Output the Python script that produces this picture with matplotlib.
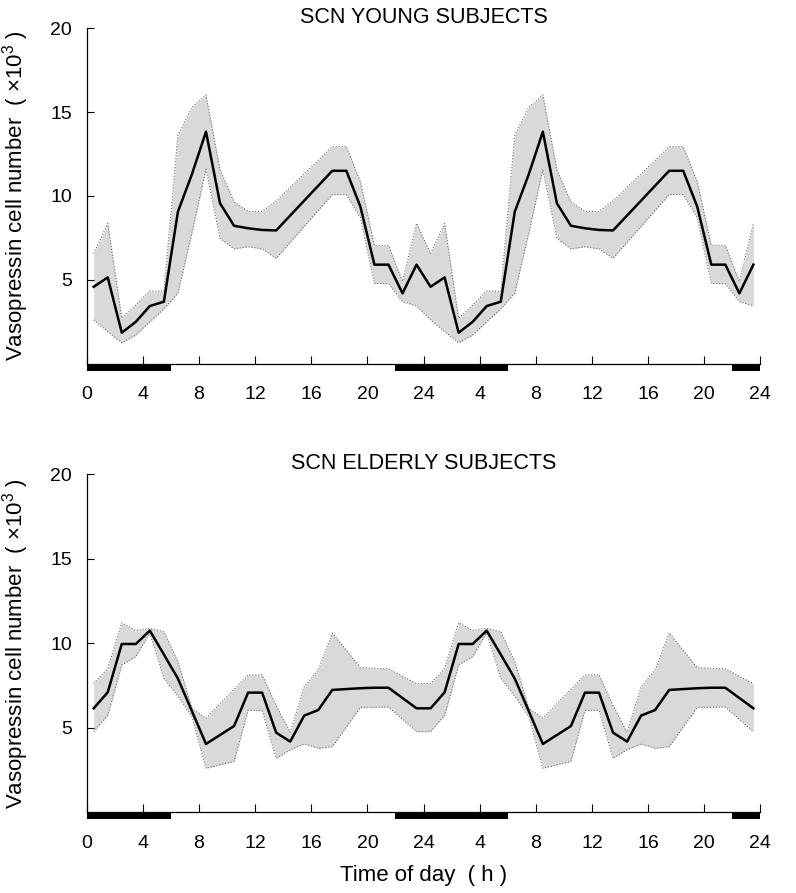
import matplotlib
matplotlib.use("Agg")
import matplotlib.pyplot as plt
import numpy as np

plt.rcParams['font.family'] = ['Liberation Sans', 'DejaVu Sans']
plt.rcParams['mathtext.fontset'] = 'custom'
plt.rcParams['mathtext.rm'] = 'Liberation Sans'
plt.rcParams['mathtext.it'] = 'Liberation Sans:italic'

# clock time of each sample (h); gaps are hours without data
young_hours = [0.5, 1.5, 2.5, 3.5, 4.5, 5.5, 6.5, 7.5, 8.5, 9.5, 10.5, 11.5, 12.5, 13.5,
               17.5, 18.5, 19.5, 20.5, 21.5, 22.5, 23.5]
young_mean = [4.58, 5.14, 1.84, 2.49, 3.43, 3.69, 9.06, 11.3, 13.83, 9.56, 8.22, 8.07, 7.97, 7.94,
              11.5, 11.5, 9.36, 5.9, 5.9, 4.19, 5.9]
young_upper = [6.57, 8.36, 2.7, 3.49, 4.34, 4.3, 13.63, 15.28, 16.02, 11.55, 9.65, 9.08, 9.08, 9.7,
               12.94, 12.94, 10.85, 7.05, 7.05, 4.9, 8.36]
young_lower = [2.6, 1.9, 1.24, 1.7, 2.49, 3.25, 4.2, 7.8, 11.6, 7.47, 6.84, 6.97, 6.84, 6.28,
               10.08, 10.08, 8.7, 4.78, 4.77, 3.69, 3.44]

elderly_hours = [0.5, 1.5, 2.5, 3.5, 4.5, 5.5, 6.5, 7.5, 8.5, 10.5, 11.5, 12.5, 13.5, 14.5,
                 15.5, 16.5, 17.5, 19.5, 20.5, 21.5, 23.5]
elderly_mean = [6.14, 7.09, 9.95, 9.95, 10.74, 9.33, 7.9, 5.97, 4.03, 5.09, 7.07, 7.07, 4.70, 4.17,
                5.71, 6.04, 7.23, 7.33, 7.36, 7.36, 6.14]
elderly_upper = [7.62, 8.5, 11.21, 10.74, 10.88, 10.68, 8.9, 6.14, 5.55, 7.27, 8.12, 8.12, 6.3, 4.72,
                 7.42, 8.41, 10.6, 8.55, 8.51, 8.48, 7.6]
elderly_lower = [4.76, 5.72, 8.71, 9.2, 10.6, 7.92, 6.85, 5.65, 2.59, 3.0, 6.02, 6.02, 3.18, 3.69,
                 4.03, 3.77, 3.87, 6.2, 6.2, 6.22, 4.76]

# dark period of the day (h)
night = [(0, 6), (22, 24)]

tick_pos = list(range(0, 49, 4))
tick_labels = ["0", "4", "8", "12", "16", "20", "24", "4", "8", "12", "16", "20", "24"]


def double_plot(ax, hours, mean, upper, lower, title):
    h = np.array(hours)
    x = np.concatenate([h, h + 24])
    m = np.tile(mean, 2)
    up = np.tile(upper, 2)
    lo = np.tile(lower, 2)
    ax.fill_between(x, lo, up, color="#d9d9d9", lw=0)
    ax.plot(x, up, ls=":", color="#707070", lw=0.8)
    ax.plot(x, lo, ls=":", color="#707070", lw=0.8)
    ax.plot(x, m, color="black", lw=1.8)

    for day in (0, 24):
        for start, end in night:
            ax.axvspan(start + day, end + day, ymin=-0.022, ymax=0,
                       color="black", lw=0, clip_on=False)

    ax.set_xlim(0, 48)
    ax.set_ylim(0, 20)
    ax.set_xticks(tick_pos)
    ax.set_xticklabels(tick_labels)
    ax.set_yticks([5, 10, 15, 20])
    ax.tick_params(axis="x", direction="in", length=5.8, width=0.8, pad=16.5, labelsize=14)
    ax.tick_params(axis="y", direction="in", length=4.8, width=0.8, pad=10.5, labelsize=14)
    for s in ("top", "right"):
        ax.spines[s].set_visible(False)
    for s in ("left", "bottom"):
        ax.spines[s].set_linewidth(0.9)
    ax.set_title(title, fontsize=15.5, pad=2.5)
    ax.set_ylabel("Vasopressin cell number  ( ×10$^{3}$ )", fontsize=16)
    ax.yaxis.set_label_coords(-0.082, 0.5)


fig = plt.figure(figsize=(7.96, 8.93), dpi=100)
ax1 = fig.add_axes([0.1089, 0.5929, 0.8464, 0.3754])
ax2 = fig.add_axes([0.1089, 0.0907, 0.8464, 0.3782])

double_plot(ax1, young_hours, young_mean, young_upper, young_lower, "SCN YOUNG SUBJECTS")
double_plot(ax2, elderly_hours, elderly_mean, elderly_upper, elderly_lower, "SCN ELDERLY SUBJECTS")

ax2.set_xlabel("Time of day  ( h )", fontsize=16)
ax2.xaxis.set_label_coords(0.5, -0.157)

fig.savefig("out.png", dpi=100)
